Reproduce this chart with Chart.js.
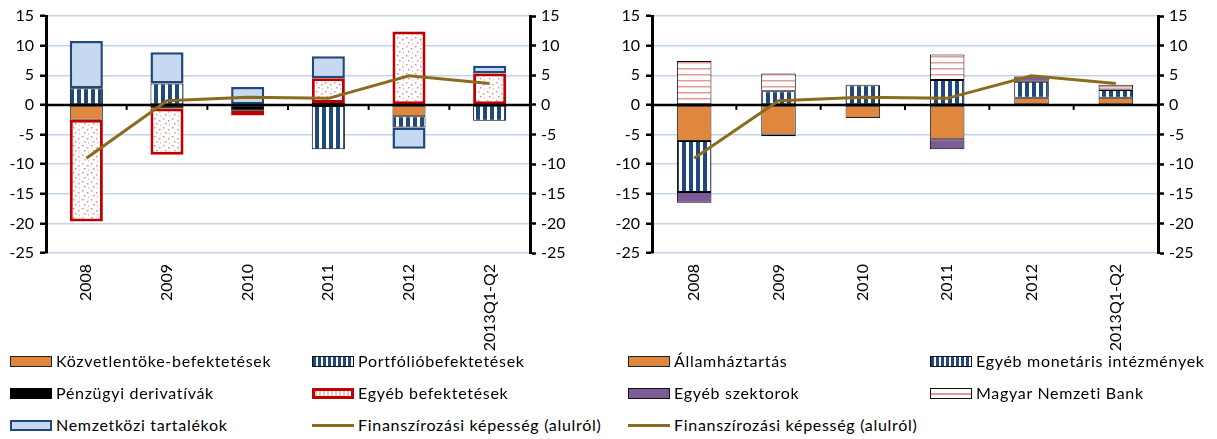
<!DOCTYPE html>
<html>
<head>
<meta charset="utf-8">
<script src="https://cdn.jsdelivr.net/npm/chart.js@4"></script>
<style>
  body { margin: 0; background: #fff; width: 1217px; height: 439px; position: relative; overflow: hidden; font-family: Lato, sans-serif; }
  .box { position: absolute; top: 0; height: 352px; }
  .leg { position: absolute; font-size: 16px; letter-spacing: 0.7px; color: #000; white-space: nowrap; line-height: 18px; }
  .sw { position: absolute; width: 42px; height: 11px; box-sizing: border-box; }
</style>
</head>
<body>
<div class="box" style="left:0;width:605px"><canvas id="chartLeft"></canvas></div>
<div class="box" style="left:605px;width:612px"><canvas id="chartRight"></canvas></div>
<div id="legend"></div>
<script>
const years = ["2008", "2009", "2010", "2011", "2012", "2013Q1-Q2"];
const yTicks = { min: -25, max: 15, step: 5 };

// bal oldali ábra: instrumentumok
const direct = [-2.5, 0, 0, -0.2, -1.9, 0];
const portfolio = [2.8, 3.6, 0, -7.3, -1.9, -2.7];
const derivatives = [0, -0.6, -1.0, 0.3, 0, 0];
const otherInv = [-17.2, -7.8, -0.8, 4.2, 12.4, 5.3];
const reserves = [8.0, 5.3, 3.0, 3.7, -3.6, 1.3];

// jobb oldali ábra: szektorok
const government = [-6.1, -5.0, -2.2, -5.8, 1.2, 1.2];
const monetary = [-8.6, 2.3, 3.3, 4.2, 2.7, 1.3];
const otherSectors = [-1.8, -0.3, 0.1, -1.7, 0.9, 0.1];
const mnb = [7.4, 3.0, 0, 4.3, 0, 0.8];

// finanszírozási képesség
const netLending = [-9.0, 0.7, 1.3, 1.1, 4.9, 3.6];

const ORANGE = "#e0873f";
const NAVY = "#1f497d";
const RED = "#c00000";
const LIGHTBLUE = "#c6d9f1";
const PURPLE = "#7b5c96";
const LINE = "#8b6b1e";
const GRID = "#c3d3ea";

Chart.defaults.font.family = "Lato, sans-serif";
Chart.defaults.font.size = 16;
Chart.defaults.color = "#000";

function makePattern(w, h, draw) {
  const c = document.createElement("canvas");
  c.width = w; c.height = h;
  const g = c.getContext("2d");
  draw(g);
  return g.createPattern(c, "repeat");
}

const stripes = makePattern(7, 7, (g) => {
  g.fillStyle = "#fff"; g.fillRect(0, 0, 7, 7);
  g.fillStyle = NAVY; g.fillRect(0, 0, 4, 7);
});
const dots = makePattern(9, 9, (g) => {
  g.fillStyle = "#fff"; g.fillRect(0, 0, 9, 9);
  g.fillStyle = "#e58a8a";
  g.fillRect(1, 1, 1.5, 1.5);
  g.fillRect(6, 3, 1.5, 1.5);
  g.fillRect(3, 6, 1.5, 1.5);
  g.fillRect(7, 7.5, 1, 1);
});
const hlines = makePattern(8, 6, (g) => {
  g.fillStyle = "#fff"; g.fillRect(0, 0, 8, 6);
  g.fillStyle = "#e39a9a"; g.fillRect(0, 2, 8, 1.5);
});

function bar(label, data, bg, border, bw) {
  return {
    type: "bar", label, data,
    backgroundColor: bg, borderColor: border, borderWidth: bw,
    borderSkipped: false, order: 1,
    categoryPercentage: 1, barPercentage: 0.41,
  };
}

function lineSet(data) {
  return {
    type: "line", label: "Finanszírozási képesség (alulról)", data,
    yAxisID: "y1", borderColor: LINE, borderWidth: 3,
    pointRadius: 0, tension: 0, order: 0,
  };
}

// nulla vonal és kis osztásjelek a kategóriák között
const zeroLine = {
  id: "zeroLine",
  beforeDatasetDraw(chart, args) {
    if (chart.data.datasets[args.index].type !== "line") return;
    const { ctx, chartArea, scales } = chart;
    const y0 = scales.y.getPixelForValue(0);
    ctx.save();
    ctx.strokeStyle = "#000";
    ctx.lineWidth = 2.5;
    ctx.beginPath();
    ctx.moveTo(chartArea.left, y0);
    ctx.lineTo(chartArea.right, y0);
    ctx.stroke();
    ctx.lineWidth = 2;
    for (let i = 1; i < years.length; i++) {
      const x = (scales.x.getPixelForValue(i - 1) + scales.x.getPixelForValue(i)) / 2;
      ctx.beginPath();
      ctx.moveTo(x, y0);
      ctx.lineTo(x, y0 + 5);
      ctx.stroke();
    }
    ctx.restore();
  },
};

function buildChart(id, datasets, leftW, rightW) {
  return new Chart(document.getElementById(id), {
    data: { labels: years, datasets },
    plugins: [zeroLine],
    options: {
      responsive: true,
      maintainAspectRatio: false,
      animation: false,
      layout: { padding: { top: 16, bottom: 0, left: 0, right: 0 } },
      plugins: { legend: { display: false }, tooltip: { enabled: false } },
      scales: {
        x: {
          stacked: true,
          grid: { display: false },
          border: { display: false },
          ticks: { minRotation: 90, maxRotation: 90, padding: 3, font: { size: 16 } },
          afterFit: (s) => { s.height = 99; },
        },
        y: {
          stacked: true,
          min: yTicks.min, max: yTicks.max,
          ticks: { stepSize: yTicks.step, padding: 6 },
          grid: { color: GRID, lineWidth: 1.5, tickColor: "#000", tickWidth: 2.5, tickLength: 6 },
          border: { color: "#000", width: 3 },
          afterFit: (s) => { s.width = leftW; },
        },
        y1: {
          position: "right",
          min: yTicks.min, max: yTicks.max,
          ticks: { stepSize: yTicks.step, padding: 5 },
          grid: { drawOnChartArea: false, tickColor: "#000", tickWidth: 2.5, tickLength: 6 },
          border: { color: "#000", width: 3 },
          afterFit: (s) => { s.width = rightW; },
        },
      },
    },
  });
}

buildChart("chartLeft", [
  bar("Közvetlentöke-befektetések", direct, ORANGE, "#222", 1),
  bar("Portfólióbefektetések", portfolio, stripes, "#000", 1),
  bar("Pénzügyi derivatívák", derivatives, "#000", "#000", 1),
  bar("Egyéb befektetések", otherInv, dots, RED, 3),
  bar("Nemzetközi tartalékok", reserves, LIGHTBLUE, NAVY, 2.5),
  lineSet(netLending),
], 46, 75);

buildChart("chartRight", [
  bar("Államháztartás", government, ORANGE, "#222", 1),
  bar("Egyéb monetáris intézmények", monetary, stripes, "#000", 1),
  bar("Egyéb szektorok", otherSectors, PURPLE, "#000", 1),
  bar("Magyar Nemzeti Bank", mnb, hlines, "#000", 1),
  lineSet(netLending),
], 47, 59);

// jelmagyarázat
const legendItems = [
  { x: 10, y: 362, text: "Közvetlentöke-befektetések", css: `background:${ORANGE};border:1.5px solid #222` },
  { x: 312, y: 362, text: "Portfólióbefektetések", css: `background:repeating-linear-gradient(90deg,${NAVY} 0 3px,#fff 3px 5px);border:1.5px solid #111` },
  { x: 10, y: 394, text: "Pénzügyi derivatívák", css: "background:#000" },
  { x: 312, y: 394, text: "Egyéb befektetések", css: `background:repeating-linear-gradient(90deg,#f3c0c0 0 2px,#fff 2px 4px);border:3px solid ${RED}` },
  { x: 10, y: 426, text: "Nemzetközi tartalékok", css: `background:${LIGHTBLUE};border:2.5px solid ${NAVY}` },
  { x: 312, y: 426, text: "Finanszírozási képesség (alulról)", css: `height:3px;background:${LINE};margin-top:4px` },
  { x: 628, y: 362, text: "Államháztartás", css: `background:${ORANGE};border:1.5px solid #222` },
  { x: 930, y: 362, text: "Egyéb monetáris intézmények", css: `background:repeating-linear-gradient(90deg,${NAVY} 0 3px,#fff 3px 5px);border:1.5px solid #111` },
  { x: 628, y: 394, text: "Egyéb szektorok", css: `background:${PURPLE};border:1.5px solid #111` },
  { x: 930, y: 394, text: "Magyar Nemzeti Bank", css: "background:linear-gradient(#fff 0 4px,#e39a9a 4px 5.5px,#fff 5.5px);border:1.5px solid #111" },
  { x: 628, y: 426, text: "Finanszírozási képesség (alulról)", css: `height:3px;background:${LINE};margin-top:4px` },
];
const legend = document.getElementById("legend");
legendItems.forEach((it) => {
  const sw = document.createElement("div");
  sw.className = "sw";
  sw.style.cssText = `left:${it.x}px;top:${it.y - 6}px;` + it.css;
  legend.appendChild(sw);
  const t = document.createElement("div");
  t.className = "leg";
  t.style.left = it.x + 46 + "px";
  t.style.top = it.y - 10 + "px";
  t.textContent = it.text;
  legend.appendChild(t);
});
</script>
</body>
</html>
